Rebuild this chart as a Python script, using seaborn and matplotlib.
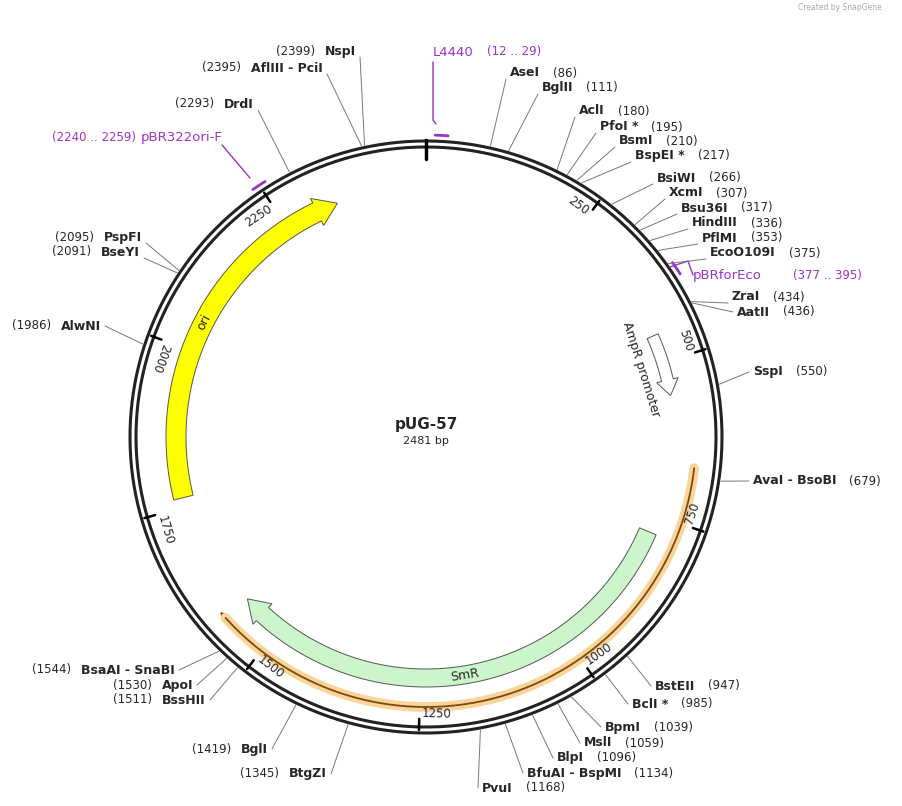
import numpy as np
import seaborn as sns
import matplotlib.pyplot as plt
from matplotlib.patches import Polygon

sns.set_style("white")
plt.rcParams['font.family'] = ['DejaVu Sans']

plasmid = "pUG-57"
total_bp = 2481

# restriction sites: name, position
enz_names = ["AseI", "BglII", "AclI", "PfoI *", "BsmI", "BspEI *", "BsiWI", "XcmI", "Bsu36I",
             "HindIII", "PflMI", "EcoO109I", "ZraI", "AatII", "SspI", "AvaI - BsoBI",
             "BstEII", "BclI *", "BpmI", "MslI", "BlpI", "BfuAI - BspMI", "PvuI",
             "BtgZI", "BglI", "BssHII", "ApoI", "BsaAI - SnaBI", "AlwNI", "BseYI", "PspFI",
             "DrdI", "AflIII - PciI", "NspI"]
enz_pos = [86, 111, 180, 195, 210, 217, 266, 307, 317, 336, 353, 375, 434, 436, 550, 679,
           947, 985, 1039, 1059, 1096, 1134, 1168,
           1345, 1419, 1511, 1530, 1544, 1986, 2091, 2095, 2293, 2395, 2399]
# label anchor: right side = name start, left side = name end
label_x = [510, 542, 579, 600, 619, 635, 657, 669, 681, 692, 702, 710, 732, 737, 753, 753,
           655, 632, 605, 584, 557, 527, 482,
           327, 268, 206, 193, 175, 101, 140, 142, 254, 323, 356]
label_y = [73, 88, 111, 127, 141, 156, 178, 193, 208, 223, 238, 253, 297, 312, 372, 481,
           686, 704, 727, 743, 758, 773, 788,
           774, 749, 700, 685, 670, 326, 252, 237, 104, 68, 51]

# features
feat_names = ["ori", "AmpR promoter", "SmR"]
feat_start = [1764, 455, 779]
feat_end = [2338, 554, 1570]
feat_colors = ["#ffff00", "#ffffff", "#ccf5cc"]

orange_start, orange_end = 666, 1581

primer_start = [12, 377, 2240]
primer_end = [29, 395, 2259]

tick_pos = [250, 500, 750, 1000, 1250, 1500, 1750, 2000, 2250]

cx, cy, R = 426, 437, 296
purple = "#9933cc"


def pt(p, r):
    a = 2 * np.pi * p / total_bp
    return cx + r * np.sin(a), cy - r * np.cos(a)


def arc(p0, p1, r, n=200):
    ps = np.linspace(p0, p1, n)
    a = 2 * np.pi * ps / total_bp
    return cx + r * np.sin(a), cy - r * np.cos(a)


def arrow_poly(p0, p1, r, w, head=40):
    body = p1 - head
    xo, yo = arc(p0, body, r + w / 2)
    xi, yi = arc(body, p0, r - w / 2)
    hx1, hy1 = pt(body, r + w / 2 + 5)
    tx, ty = pt(p1, r)
    hx2, hy2 = pt(body, r - w / 2 - 5)
    xs = list(xo) + [hx1, tx, hx2] + list(xi)
    ys = list(yo) + [hy1, ty, hy2] + list(yi)
    return np.column_stack([xs, ys])


def tangent_rot(p):
    return -360 * p / total_bp


fig = plt.figure(figsize=(9.03, 8.06), dpi=100)
ax = fig.add_axes([0, 0, 1, 1])
ax.set_xlim(0, 903)
ax.set_ylim(806, 0)
ax.axis('off')

# backbone ring
x, y = arc(0, total_bp, R)
ax.plot(x, y, color="#222222", lw=2.2)
x, y = arc(0, total_bp, R - 6)
ax.plot(x, y, color="#222222", lw=2.2)

# ticks
x0, y0 = pt(0, R + 1)
x1, y1 = pt(0, R - 18)
ax.plot([x0, x1], [y0, y1], color="black", lw=2.5)
for p in tick_pos:
    xa, ya = pt(p, R - 3)
    xb, yb = pt(p, R - 14)
    ax.plot([xa, xb], [ya, yb], color="black", lw=1.8)
    a = 360 * p / total_bp
    xt, yt = pt(p - 4, R - 19)
    if 90 < a < 315:
        ax.text(xt, yt, str(p), rotation=-a + 180, ha='left', va='center', fontsize=8.5,
                rotation_mode='anchor')
    else:
        ax.text(xt, yt, str(p), rotation=-a, ha='right', va='center', fontsize=8.5,
                rotation_mode='anchor')

# features
radii = {"ori": (250, 20, 35), "SmR": (241, 18, 35), "AmpR promoter": (248, 12, 25)}
for name, s, e, col in zip(feat_names, feat_start, feat_end, feat_colors):
    r, w, h = radii[name]
    poly = arrow_poly(s, e, r, w, head=h)
    ax.add_patch(Polygon(poly, closed=True, facecolor=col, edgecolor="#555555", lw=0.7))

ax.text(*pt(2050, 250), "ori", rotation=tangent_rot(2050), ha='center', va='center',
        fontsize=9, rotation_mode='anchor')
ax.text(*pt(1176, 241), "SmR", rotation=tangent_rot(1176) + 180, ha='center', va='center',
        fontsize=9, rotation_mode='anchor')
ax.text(*pt(500, 225), "AmpR promoter", rotation=tangent_rot(500), ha='center',
        va='center', fontsize=9, rotation_mode='anchor')

# orange feature
x, y = arc(orange_start, orange_end - 10, 270)
ax.plot(x, y, color="#fbd49a", lw=7, solid_capstyle='round')
ax.plot(x, y, color="#7a4a10", lw=1.3)
poly = np.array([pt(orange_end - 12, 274), pt(orange_end, 270), pt(orange_end - 12, 266)])
ax.add_patch(Polygon(poly, closed=True, facecolor="#7a4a10", edgecolor="#7a4a10", lw=1))

# primers
for s, e in zip(primer_start, primer_end):
    x, y = arc(s, e, R + 6)
    ax.plot(x, y, color=purple, lw=2)
ax.plot([433, 433, 436], [62, 120, 124], color=purple, lw=1)
ax.text(433, 52, "L4440", color=purple, fontsize=9.5, va='center')
ax.text(487, 52, "(12 .. 29)", color=purple, fontsize=8.5, va='center')
ax.plot([670, 688, 693], [267, 261, 275], color=purple, lw=1)
ax.text(693, 275, "pBRforEco", color=purple, fontsize=9.5, va='center')
ax.text(793, 275, "(377 .. 395)", color=purple, fontsize=8.5, va='center')
ax.plot([222, 250], [145, 178], color=purple, lw=1)
ax.text(52, 138, "(2240 .. 2259)", color=purple, fontsize=8.5, va='center')
ax.text(141, 138, "pBR322ori-F", color=purple, fontsize=9.5, va='center')

# enzyme labels
renderer = fig.canvas.get_renderer()
for name, p, lx, ly in zip(enz_names, enz_pos, label_x, label_y):
    right = p < total_bp / 2
    xr, yr = pt(p, R + 2)
    if right:
        t = ax.text(lx, ly, name, fontweight='bold', fontsize=9, va='center', ha='left')
        ax.plot([xr, lx - 4], [yr, ly + (6 if ly < 300 else 0)], color="#777777", lw=0.7)
        bb = t.get_window_extent(renderer)
        ax.text(bb.x1 + 13, ly, f"({p})", fontsize=8.5, va='center', ha='left')
    else:
        t = ax.text(lx, ly, name, fontweight='bold', fontsize=9, va='center', ha='right')
        ax.plot([xr, lx + 4], [yr, ly + (6 if ly < 300 else 0)], color="#777777", lw=0.7)
        bb = t.get_window_extent(renderer)
        ax.text(bb.x0 - 10, ly, f"({p})", fontsize=8.5, va='center', ha='right')

ax.text(cx, 425, plasmid, fontweight='bold', fontsize=11, ha='center', va='center')
ax.text(cx, 441, f"{total_bp} bp", fontsize=8, ha='center', va='center')
ax.text(840, 8, "Created by SnapGene", fontsize=5.5, color="#aaaaaa", ha='center', va='center')

fig.savefig("out.png", dpi=100, facecolor='white')
